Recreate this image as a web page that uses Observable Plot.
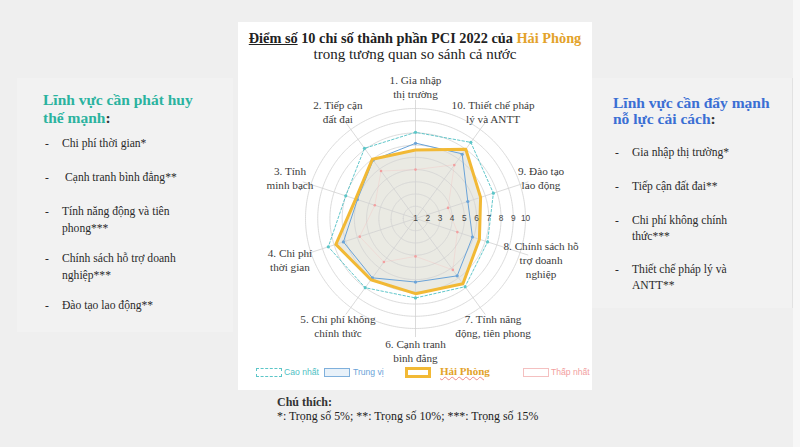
<!DOCTYPE html>
<html><head><meta charset="utf-8">
<script src="https://cdn.jsdelivr.net/npm/d3@7"></script>
<script src="https://cdn.jsdelivr.net/npm/@observablehq/plot@0.6"></script>
<style>
body{margin:0;width:800px;height:447px;background:#efefef;position:relative;overflow:hidden;font-family:"Liberation Serif",serif;color:#333;}
.abs{position:absolute;white-space:nowrap;}
#lp{position:absolute;left:17px;top:78px;width:216px;height:254px;background:#f2f2f2;}
#rp{position:absolute;left:592px;top:78px;width:200px;height:230px;background:#f2f2f2;border-right:1px solid #e2e2e2;}
#rstrip{position:absolute;left:793px;top:0;width:7px;height:447px;background:#f7f7f7;}
#panel{position:absolute;left:238px;top:22px;width:354px;height:368px;background:#fff;}
.h{font-weight:bold;font-size:15.5px;line-height:18px;}
.it{font-size:11.6px;line-height:16px;color:#2a2a2a;}
.lg{font-family:"Liberation Sans",sans-serif;font-size:8.6px;line-height:12px;}
.box{position:absolute;width:24px;height:7px;}
</style></head><body>
<div id="rstrip"></div>
<div id="lp"></div>
<div id="rp"></div>
<div id="panel"></div>
<div id="chart" style="position:absolute;left:238px;top:62px;"></div>
<div id="texts"></div>
<script>
// ---- data ----
const categories = ["1. Gia nhập\nthị trường","2. Tiếp cận\nđất đai","3. Tính\nminh bạch","4. Chi phí\nthời gian","5. Chi phí không\nchính thức","6. Cạnh tranh\nbình đẳng","7. Tính năng\nđộng, tiên phong","8. Chính sách hỗ\ntrợ doanh\nnghiệp","9. Đào tạo\nlao động","10. Thiết chế pháp\nlý và ANTT"];
const caoNhat  = [8.05, 8.1, 7.0, 8.5, 8.0, 7.5, 7.9, 7.2, 7.7, 8.7];
const trungVi  = [7.15, 6.9, 6.0, 7.2, 7.0, 6.2, 6.8, 5.9, 5.5, 7.5];
const haiPhong = [6.6, 7.0, 6.15, 7.85, 7.2, 7.15, 7.6, 6.5, 6.6, 8.0];
const thapNhat = [5.0, 5.8, 4.5, 5.8, 5.4, 4.1, 6.2, 4.6, 3.8, 6.4];
const tickValues = [1,2,3,4,5,6,7,8,9,10];
const titleLine1 = "Điểm số 10 chỉ số thành phần PCI 2022 của";
const titleHL = "Hải Phòng";
const titleLine2 = "trong tương quan so sánh cả nước";
const seriesNames = ["Cao nhất","Trung vị","Hải Phòng","Thấp nhất"];
const leftHeading = ["Lĩnh vực cần phát huy","thế mạnh"];
const leftItems = [["Chi phí thời gian*"],["Cạnh tranh bình đẳng**"],["Tính năng động và tiên","phong***"],["Chính sách hỗ trợ doanh","nghiệp***"],["Đào tạo lao động**"]];
const rightHeading = ["Lĩnh vực cần đẩy mạnh","nỗ lực cải cách"];
const rightItems = [["Gia nhập thị trường*"],["Tiếp cận đất đai**"],["Chi phí không chính","thức***"],["Thiết chế pháp lý và","ANTT**"]];
const noteTitle = "Chú thích:";
const noteText = "*: Trọng số 5%; **: Trọng số 10%; ***: Trọng số 15%";

// ---- radar via projection ----
const lon = i => 180 + 36 * i;
const lat = v => 90 - (v - 1);
const rows = vals => vals.map((v, i) => ({i, v}));
const circle = r => d3.geoCircle().center([0, 90]).radius(r).precision(1)();
const idx = categories.map((d, i) => i);

const chart = Plot.plot({
  width: 354, height: 300,
  marginLeft: 67, marginRight: 67, marginTop: 46, marginBottom: 34,
  style: {background: "transparent", overflow: "visible"},
  projection: {type: "azimuthal-equidistant", rotate: [0, -90], domain: circle(9), clip: false},
  marks: [
    Plot.area(rows(haiPhong), {x1: d => lon(d.i), y1: d => lat(d.v), x2: 0, y2: 90, curve: "linear-closed", fill: "#e9e9e2", fillOpacity: 0.95}),
    Plot.geo(tickValues.slice(1), {geometry: k => circle(k - 1), fill: "none", stroke: "#d2d2d2", strokeWidth: 0.8}),
    Plot.link(idx, {x1: i => lon(i), y1: lat(10.7), x2: i => lon(i), y2: 90, stroke: "#d2d2d2", strokeWidth: 0.8}),
    Plot.line(rows(thapNhat), {x: d => lon(d.i), y: d => lat(d.v), curve: "linear-closed", stroke: "#f4b8b8", strokeWidth: 0.6, strokeOpacity: 0.5}),
    Plot.dot(rows(thapNhat), {x: d => lon(d.i), y: d => lat(d.v), r: 1.3, fill: "#f2a0a0"}),
    Plot.line(rows(caoNhat), {x: d => lon(d.i), y: d => lat(d.v), curve: "linear-closed", stroke: "#4fbfc4", strokeWidth: 0.9, strokeDasharray: "2.5,2"}),
    Plot.dot(rows(caoNhat), {x: d => lon(d.i), y: d => lat(d.v), r: 1.6, fill: "#5cc6c8"}),
    Plot.line(rows(trungVi), {x: d => lon(d.i), y: d => lat(d.v), curve: "linear-closed", stroke: "#6aa3d8", strokeWidth: 1}),
    Plot.dot(rows(trungVi), {x: d => lon(d.i), y: d => lat(d.v), r: 1.6, fill: "#6aa3d8"}),
    Plot.line(rows(haiPhong), {x: d => lon(d.i), y: d => lat(d.v), curve: "linear-closed", stroke: "#f2b935", strokeWidth: 3, strokeLinejoin: "round"}),
    Plot.text(tickValues, {x: 90, y: k => lat(k), text: k => String(k), fontSize: 8.3, fill: "#444", fontFamily: "Liberation Sans, sans-serif"}),
    Plot.text(categories, {x: (d, i) => lon(i), y: lat(11.8), text: d => d, fontSize: 11.2, fill: "#3a3a3a", fontFamily: "Liberation Serif, serif", lineHeight: 1.28})
  ]
});
document.getElementById("chart").appendChild(chart);

// ---- HTML texts ----
const T = document.getElementById("texts");
function add(html, style, cls) {
  const e = document.createElement("div");
  e.className = "abs " + (cls || "");
  e.innerHTML = html;
  Object.assign(e.style, style);
  T.appendChild(e);
  return e;
}
// title
add(`<span style="text-decoration:underline">${titleLine1.slice(0,7)}</span>${titleLine1.slice(7)} <span style="color:#e3a22a">${titleHL}</span>`,
  {left: "238px", width: "354px", textAlign: "center", top: "30px", fontSize: "14.3px", fontWeight: "bold", color: "#222", lineHeight: "16px"});
add(titleLine2, {left: "238px", width: "354px", textAlign: "center", top: "46px", fontSize: "15px", color: "#222", lineHeight: "16px"});

// left panel
add(leftHeading[0], {left: "43px", top: "91px", color: "#2bb39f"}, "h");
add(`<span style="color:#2bb39f">${leftHeading[1]}</span>:`, {left: "43px", top: "109px", color: "#333"}, "h");
const leftY = [144, 178, 212, 259, 306];
leftItems.forEach((lines, k) => {
  add("-", {left: "45px", top: (leftY[k] - 8) + "px"}, "it");
  lines.forEach((s, j) => add(s, {left: (k === 1 ? 65 : 62) + "px", top: (leftY[k] - 8 + j * 17) + "px"}, "it"));
});
// right panel
add(rightHeading[0], {left: "613px", top: "94px", color: "#3b6fd4"}, "h");
add(`<span style="color:#3b6fd4">${rightHeading[1]}</span>:`, {left: "613px", top: "110px", color: "#333"}, "h");
const rightY = [153, 187, 221, 270];
rightItems.forEach((lines, k) => {
  add("-", {left: "615px", top: (rightY[k] - 8) + "px"}, "it");
  lines.forEach((s, j) => add(s, {left: "632px", top: (rightY[k] - 8 + j * 16) + "px"}, "it"));
});

// legend
const legendBoxes = [
  {x: 256, border: "1px dashed #5cc6c8", bg: "#fff", tx: 284, color: "#4fbfc4"},
  {x: 324, border: "1px solid #7fb0dc", bg: "#e8f1f9", tx: 353, color: "#6aa3d8"},
  {x: 405, border: "3px solid #f2b935", bg: "#fff", tx: 440, color: "#e3a22a"},
  {x: 523, border: "1px solid #f4c0c0", bg: "#fff", tx: 551, color: "#f2a0a0"}
];
legendBoxes.forEach((b, k) => {
  const e = document.createElement("div");
  e.className = "box";
  Object.assign(e.style, {left: b.x + "px", top: (k === 2 ? 367 : 368) + "px", border: b.border, background: b.bg, width: (k === 2 ? 20 : 24) + "px", height: (k === 2 ? 5 : 7) + "px"});
  T.appendChild(e);
  if (k === 2) add(seriesNames[k], {left: b.tx + "px", top: "365px", color: b.color, fontSize: "11px", fontWeight: "bold", fontFamily: "Liberation Serif, serif", textDecoration: "underline wavy #e88", textDecorationThickness: "1px"});
  else add(seriesNames[k], {left: b.tx + "px", top: "366px", color: b.color}, "lg");
});

// footnote
add(noteTitle, {left: "277px", top: "395px", fontSize: "12px", fontWeight: "bold", color: "#333", lineHeight: "15px"});
add(noteText, {left: "277px", top: "409px", fontSize: "11.9px", color: "#222", lineHeight: "15px"});
</script>
</body></html>
